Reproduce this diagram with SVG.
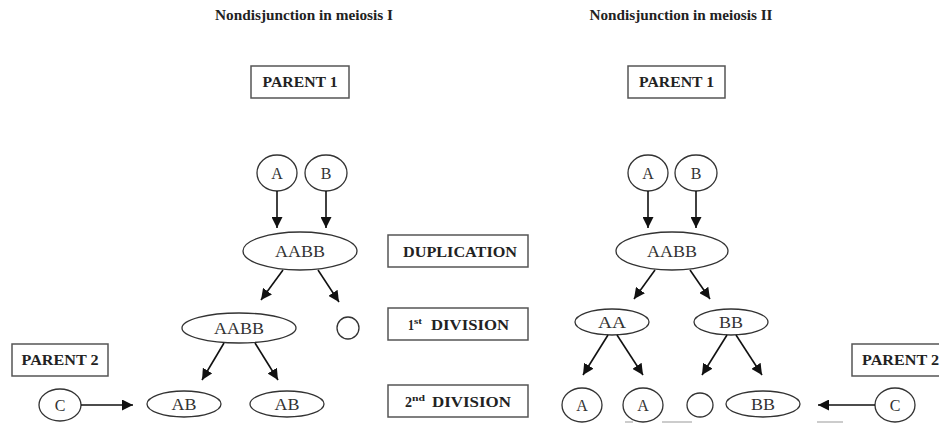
<svg xmlns="http://www.w3.org/2000/svg" width="939" height="423" viewBox="0 0 939 423">
<style>
.title{font-family:"Liberation Serif","Times New Roman",serif;font-weight:bold;font-size:14px;fill:#222;text-anchor:middle}
.box rect{fill:#fff;stroke:#555;stroke-width:1.5}
.box text{font-family:"Liberation Serif","Times New Roman",serif;font-weight:bold;font-size:15px;fill:#222;text-anchor:middle}
.box text.s{text-anchor:start}
.box text.sup{font-size:9px;text-anchor:start}
.node ellipse{fill:#fff;stroke:#333;stroke-width:1.3}
.node text{font-family:"Liberation Serif","Times New Roman",serif;font-size:16px;fill:#333;text-anchor:middle}
.conn line{stroke:#111;stroke-width:1.6;marker-end:url(#arr)}
</style>
<defs>
<marker id="arr" markerUnits="userSpaceOnUse" markerWidth="11" markerHeight="11" refX="11" refY="5.5" orient="auto" viewBox="0 0 11 11">
<path d="M0,0 L11,5.5 L0,11 z" fill="#111"/>
</marker>
</defs>
<rect width="939" height="423" fill="#fff"/>
<g id="titles">
<text class="title" x="304" y="20" textLength="178" lengthAdjust="spacingAndGlyphs">Nondisjunction in meiosis I</text>
<text class="title" x="681" y="20" textLength="183" lengthAdjust="spacingAndGlyphs">Nondisjunction in meiosis II</text>
</g>
<g id="parent1-left" class="box"><rect x="251" y="66" width="98" height="32"/><text x="300" y="87" textLength="75" lengthAdjust="spacingAndGlyphs">PARENT 1</text></g>
<g id="parent1-right" class="box"><rect x="628" y="66" width="97" height="32"/><text x="676.5" y="87" textLength="75" lengthAdjust="spacingAndGlyphs">PARENT 1</text></g>
<g id="duplication" class="box"><rect x="388" y="235" width="140" height="32"/><text x="460" y="257" textLength="114" lengthAdjust="spacingAndGlyphs">DUPLICATION</text></g>
<g id="div1" class="box"><rect x="388" y="308" width="140" height="32"/>
<text class="s" x="408" y="330" textLength="6" lengthAdjust="spacingAndGlyphs">1</text>
<text class="sup" x="414" y="324" textLength="8" lengthAdjust="spacingAndGlyphs">st</text>
<text class="s" x="431" y="330" textLength="78" lengthAdjust="spacingAndGlyphs">DIVISION</text></g>
<g id="div2" class="box"><rect x="388" y="385" width="140" height="32"/>
<text class="s" x="405" y="407" textLength="7" lengthAdjust="spacingAndGlyphs">2</text>
<text class="sup" x="412" y="401" textLength="13" lengthAdjust="spacingAndGlyphs">nd</text>
<text class="s" x="432" y="407" textLength="79" lengthAdjust="spacingAndGlyphs">DIVISION</text></g>
<g id="parent2-left" class="box"><rect x="12" y="344" width="96" height="32"/><text x="60" y="365" textLength="77" lengthAdjust="spacingAndGlyphs">PARENT 2</text></g>
<g id="parent2-right" class="box"><rect x="852" y="344" width="100" height="32"/><text class="s" x="862" y="365" textLength="77" lengthAdjust="spacingAndGlyphs">PARENT 2</text></g>

<g id="L-A" class="node"><ellipse cx="277" cy="173" rx="20" ry="18"/><text x="277" y="179">A</text></g>
<g id="L-B" class="node"><ellipse cx="326" cy="173" rx="21" ry="18"/><text x="326" y="179">B</text></g>
<g id="L-AABB" class="node"><ellipse cx="300" cy="251" rx="57" ry="19"/><text x="300" y="257" textLength="50" lengthAdjust="spacingAndGlyphs">AABB</text></g>
<g id="L-AABB2" class="node"><ellipse cx="239" cy="328" rx="57" ry="15"/><text x="239" y="334" textLength="50" lengthAdjust="spacingAndGlyphs">AABB</text></g>
<g id="L-empty" class="node"><ellipse cx="348" cy="328" rx="11" ry="11"/></g>
<g id="L-C" class="node"><ellipse cx="60" cy="405" rx="21" ry="16"/><text x="60" y="411">C</text></g>
<g id="L-AB1" class="node"><ellipse cx="184" cy="404" rx="37" ry="13"/><text x="184" y="410" textLength="25" lengthAdjust="spacingAndGlyphs">AB</text></g>
<g id="L-AB2" class="node"><ellipse cx="287" cy="404" rx="37" ry="13"/><text x="287" y="410" textLength="25" lengthAdjust="spacingAndGlyphs">AB</text></g>

<g id="R-A" class="node"><ellipse cx="648" cy="173" rx="20" ry="18"/><text x="648" y="179">A</text></g>
<g id="R-B" class="node"><ellipse cx="696" cy="173" rx="21" ry="18"/><text x="696" y="179">B</text></g>
<g id="R-AABB" class="node"><ellipse cx="672" cy="251" rx="56" ry="19"/><text x="672" y="257" textLength="50" lengthAdjust="spacingAndGlyphs">AABB</text></g>
<g id="R-AA" class="node"><ellipse cx="612" cy="322" rx="37" ry="13"/><text x="612" y="328" textLength="28" lengthAdjust="spacingAndGlyphs">AA</text></g>
<g id="R-BB" class="node"><ellipse cx="731" cy="322" rx="37" ry="13"/><text x="731" y="328" textLength="24" lengthAdjust="spacingAndGlyphs">BB</text></g>
<g id="R-A1" class="node"><ellipse cx="582" cy="405" rx="20" ry="17"/><text x="582" y="411">A</text></g>
<g id="R-A2" class="node"><ellipse cx="643" cy="405" rx="20" ry="17"/><text x="643" y="411">A</text></g>
<g id="R-empty" class="node"><ellipse cx="700" cy="405" rx="13" ry="12"/></g>
<g id="R-BB2" class="node"><ellipse cx="763" cy="404" rx="37" ry="13"/><text x="763" y="410" textLength="24" lengthAdjust="spacingAndGlyphs">BB</text></g>
<g id="R-C" class="node"><ellipse cx="895" cy="405" rx="20" ry="17"/><text x="895" y="411">C</text></g>

<g id="connectors" class="conn">
<line x1="277" y1="191" x2="277" y2="228"/>
<line x1="326" y1="191" x2="326" y2="228"/>
<line x1="283" y1="270" x2="261" y2="300"/>
<line x1="318" y1="270" x2="339" y2="302"/>
<line x1="224" y1="343" x2="202" y2="380"/>
<line x1="255" y1="343" x2="278" y2="380"/>
<line x1="81" y1="405" x2="133" y2="405"/>
<line x1="648" y1="191" x2="648" y2="228"/>
<line x1="696" y1="191" x2="696" y2="228"/>
<line x1="655" y1="270" x2="634" y2="299"/>
<line x1="690" y1="270" x2="710" y2="299"/>
<line x1="608" y1="335" x2="583" y2="375"/>
<line x1="617" y1="335" x2="643" y2="375"/>
<line x1="727" y1="335" x2="702" y2="375"/>
<line x1="736" y1="335" x2="762" y2="375"/>
<line x1="875" y1="405" x2="818" y2="405"/>
</g>
<g id="marks" stroke="#bbb" stroke-width="1.5">
<line x1="625" y1="422" x2="633" y2="422"/>
<line x1="662" y1="422" x2="692" y2="422"/>
<line x1="817" y1="422" x2="843" y2="422"/>
</g>
</svg>
